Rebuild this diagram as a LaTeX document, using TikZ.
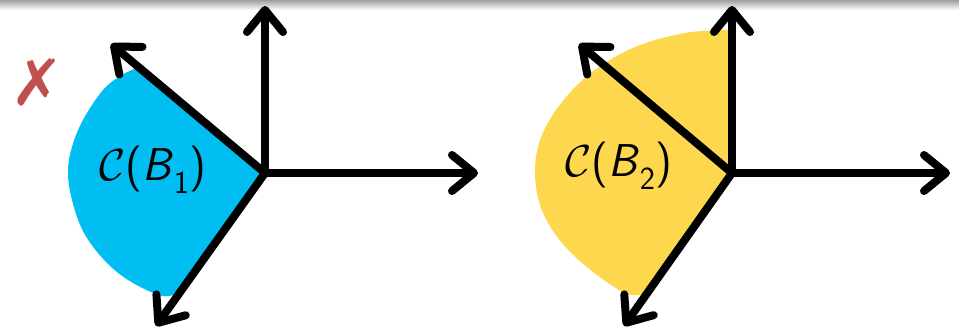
\documentclass[tikz,border=0pt]{standalone}
\usepackage{fontspec}
\newfontfamily\djv{DejaVu Sans}
\usetikzlibrary{arrows.meta}
\definecolor{coneblue}{RGB}{0,190,242}
\definecolor{coneyellow}{RGB}{253,216,78}
\definecolor{crossred}{RGB}{192,80,77}
\tikzset{
  vec/.style={line width=8pt, line cap=round, -{Straight Barb[length=22pt,width=36pt,round]}},
  conelabel/.style={font=\fontsize{46}{54}\selectfont\sffamily, inner sep=0pt}
}
\newcommand{\conelab}[1]{\scalebox{1.8}{$\mathcal{C}$}(\textit{B}\textsubscript{#1})}
\begin{document}
\begin{tikzpicture}[x=1pt,y=-1pt]
\useasboundingbox (0,0) rectangle (959,329);
\shade[top color=gray!75, bottom color=white] (0,0) rectangle (959,10);
% left cone
\coordinate (O1) at (265,173);
\coordinate (U1) at (265,6);
\coordinate (R1) at (478,173);
\coordinate (L1) at (111,44);
\coordinate (D1) at (156,326);
\fill[coneblue] (O1) -- plot[smooth, tension=0.6] coordinates {(139,67) (122,75) (103,90) (83,120) (72,147) (68,172) (72,200) (84,233) (107,263) (133,283) (163,296) (180,292)} -- cycle;
\node[conelabel] (t1) at (153,170) {\conelab{1}};
\draw[vec] (O1) -- (U1);
\draw[vec] (O1) -- (R1);
\draw[vec] (O1) -- (L1);
\draw[vec] (O1) -- (D1);
\node[text=crossred, font=\djv\fontsize{64}{70}\selectfont, inner sep=0pt] (x) at (37,82) {✗};
% right cone
\coordinate (O2) at (732,173);
\coordinate (U2) at (732,6);
\coordinate (R2) at (950,173);
\coordinate (L2) at (579,44);
\coordinate (D2) at (624,326);
\fill[coneyellow] (O2) -- (732,30) -- plot[smooth, tension=0.6] coordinates {(725,30) (685,33) (635,47) (592,72) (562,102) (542,135) (535,168) (540,205) (558,238) (588,268) (627,294) (648,292)} -- cycle;
\node[conelabel] (t2) at (619,166) {\conelab{2}};
\draw[vec] (O2) -- (U2);
\draw[vec] (O2) -- (R2);
\draw[vec] (O2) -- (L2);
\draw[vec] (O2) -- (D2);
\end{tikzpicture}
\end{document}
